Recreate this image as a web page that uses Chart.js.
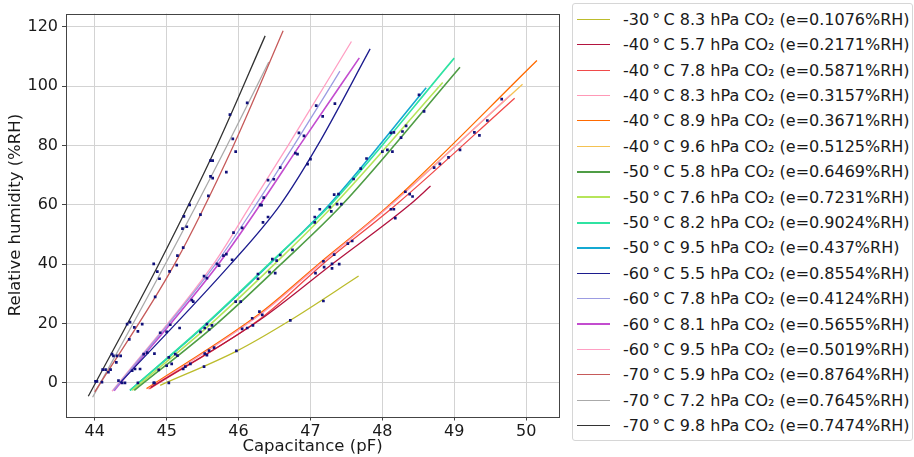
<!DOCTYPE html>
<html>
<head>
<meta charset="utf-8">
<script src="https://cdn.jsdelivr.net/npm/chart.js@4.4.1/dist/chart.umd.min.js"></script>
<style>
body { margin: 0; background: #fff; width: 914px; height: 457px; overflow: hidden; position: relative; font-family: "DejaVu Sans", sans-serif; }
#wrap { position: absolute; left: 0; top: 0; width: 570px; height: 457px; }
#legend { position: absolute; left: 572px; top: 3px; width: 341px; height: 438px; border: 1px solid #d6d6d6; border-radius: 3px; box-sizing: border-box; }
.row { position: absolute; left: 0; height: 24px; display: flex; align-items: center; font-size: 16px; color: #1a1a1a; white-space: nowrap; }
.swatch { width: 33px; margin-left: 4px; margin-right: 13px; }
</style>
</head>
<body>
<div id="wrap"><canvas id="chartFit" width="570" height="457"></canvas></div>
<div id="legend"></div>
<script>
// series labels
const temps = ['-30', '-40', '-40', '-40', '-40', '-40', '-50', '-50', '-50', '-50', '-60', '-60', '-60', '-60', '-70', '-70', '-70'];
const pressures = ['8.3', '5.7', '7.8', '8.3', '8.9', '9.6', '5.8', '7.6', '8.2', '9.5', '5.5', '7.8', '8.1', '9.5', '5.9', '7.2', '9.8'];
const errors = ['0.1076', '0.2171', '0.5871', '0.3157', '0.3671', '0.5125', '0.6469', '0.7231', '0.9024', '0.437', '0.8554', '0.4124', '0.5655', '0.5019', '0.8764', '0.7645', '0.7474'];

// fitted curves (capacitance pF, humidity %RH)
const fitX = [
    [44.91, 45.98, 46.72, 47.67],
    [44.78, 46.30, 47.30, 48.38, 48.67],
    [44.76, 46.35, 47.17, 48.19, 49.84],
    [44.74, 46.31, 47.13, 48.12, 49.78],
    [44.72, 46.30, 47.11, 48.10, 50.15],
    [44.74, 46.30, 47.12, 48.11, 49.95],
    [44.55, 45.70, 46.59, 47.44, 49.08],
    [44.52, 45.62, 46.50, 47.33, 48.84],
    [44.49, 45.55, 46.42, 47.28, 49.00],
    [44.49, 45.56, 46.43, 47.26, 48.61],
    [44.35, 45.89, 46.58, 47.10, 47.83],
    [44.26, 45.68, 46.24, 46.77, 47.41],
    [44.27, 45.72, 46.30, 46.85, 47.68],
    [44.24, 45.65, 46.17, 46.69, 47.57],
    [44.00, 45.11, 45.93, 46.62],
    [43.97, 44.98, 45.84, 46.42],
    [43.91, 44.89, 45.70, 46.37]
];
const fitY = [
    [-0.8, 10.8, 21.1, 36.0],
    [-1.5, 21.3, 40, 60, 66.3],
    [-2.0, 22.5, 40, 60, 95.9],
    [-2.0, 23.2, 40, 60, 97.0],
    [-1.9, 23.5, 40, 60, 108.6],
    [-1.9, 23.3, 40, 60, 100.6],
    [-2.5, 20, 40, 60, 106.3],
    [-2.5, 20, 40, 60, 101.2],
    [-2.5, 20, 40, 60, 109.4],
    [-2.5, 20, 40, 60, 99.4],
    [0, 40, 60, 80, 112.5],
    [-2.5, 40, 60, 80, 105.0],
    [-2.6, 40, 60, 80, 109.5],
    [-2.8, 40, 60, 80, 115.0],
    [-3.0, 40, 80, 118.6],
    [-4.8, 40, 80, 108.1],
    [-4.5, 40, 80, 116.9]
];

// measured points
const pointX = [
    44.01, 44.03, 44.10, 44.11, 44.15, 44.22, 44.19, 44.24, 44.26, 44.31, 44.36, 44.30, 44.45, 44.49, 44.55, 44.66, 44.60, 44.48,
    44.82, 44.87, 44.90, 44.84, 45.04, 45.14, 45.15, 45.23, 45.22, 45.28, 45.24, 45.32, 45.47, 45.58, 45.61, 45.64, 45.83, 45.61,
    45.64, 45.96, 45.92, 45.88, 46.12,
    44.33, 44.38, 44.42, 44.52, 44.56, 44.63, 44.68, 44.73, 44.83, 44.91, 45.00, 45.05, 45.18, 45.35, 45.37, 45.52, 45.56, 45.70,
    45.73, 45.79, 45.83, 45.91, 45.93, 46.05, 46.30, 46.32, 46.34, 46.41, 46.35, 46.41, 46.49, 46.58, 46.79, 46.82, 46.84, 46.91,
    46.96, 47.00, 47.08, 47.17, 47.34,
    44.60, 44.83, 44.89, 45.00, 45.07, 45.12, 45.15, 45.03, 45.47, 45.53, 45.56, 45.59, 45.63, 45.96, 46.03, 46.27, 46.27, 46.43,
    46.51, 46.47, 46.53, 46.58, 46.75, 47.06, 47.06, 47.13, 47.27, 47.29, 47.37, 47.43, 47.33, 47.39, 47.60, 47.70, 47.78, 48.00,
    48.07, 48.14, 48.12, 48.16, 48.26, 48.28, 48.33, 48.51, 48.58,
    44.82, 45.23, 45.26, 45.33, 45.52, 45.53, 45.56, 45.59, 45.66, 46.05, 46.12, 46.19, 46.20, 46.29, 46.33, 47.07, 47.19, 47.18,
    47.30, 47.33, 47.40, 47.30, 47.52, 47.58, 48.12, 48.16, 48.18, 48.32, 48.38, 48.42, 48.72, 48.80, 48.92, 49.08, 49.28, 49.35,
    49.46, 49.66,
    45.03, 45.97, 46.72, 47.18
];
const pointY = [
    0.5, 0.5, 0.3, 4.5, 4.5, 4.5, 3.6, 9.7, 9.1, 9.1, 9.1, 6.9, 19.8, 20.5, 18.7, 19.8, 17.4, 14.7,
    40.1, 37.5, 35.1, 29.0, 37.6, 39.7, 42.9, 45.6, 52.0, 52.6, 56.1, 60.0, 56.7, 63.0, 69.6, 69.0, 71.0, 74.9,
    74.9, 77.9, 82.2, 90.4, 94.3,
    0.8, 0, 0, 4.1, 4.7, 4.7, 9.7, 10.2, 9.9, 16.9, 17.2, 19.6, 18.5, 27.9, 27.4, 36.0, 35.3, 40.1,
    39.5, 42.9, 43.4, 41.5, 50.6, 52.2, 60.0, 59.9, 54.1, 55.9, 62.4, 68.3, 68.6, 72.5, 77.4, 77.1, 84.2, 83.2,
    73.7, 75.4, 93.4, 89.8, 94.1,
    0, 0, 4.4, 5.8, 6.4, 9.7, 9.2, 8.6, 17.2, 18.5, 19.8, 18.0, 19.4, 27.4, 27.4, 36.7, 35.1, 37.3,
    37.0, 41.7, 41.2, 43.1, 44.8, 55.9, 54.1, 58.5, 59.2, 57.8, 60.2, 60.2, 63.4, 63.6, 68.7, 72.2, 75.6, 77.9,
    78.5, 77.9, 84.2, 84.4, 82.6, 84.7, 86.6, 97.0, 91.5,
    0, 4.7, 5.5, 6.4, 5.5, 9.9, 9.4, 10.9, 11.9, 18.2, 18.5, 21.8, 19.4, 24.0, 22.9, 37.0, 39.0, 41.0,
    40.1, 43.2, 40.0, 38.6, 46.9, 47.8, 58.5, 58.5, 55.5, 64.4, 63.6, 62.8, 72.5, 73.8, 76.0, 78.5, 84.4, 83.4,
    88.4, 95.6,
    0, 10.8, 21.1, 27.6
];

const xTicks = [44, 45, 46, 47, 48, 49, 50];
const yTicks = [0, 20, 40, 60, 80, 100, 120];

const colors = ['#bcbc2c', '#b3143f', '#f04a4a', '#ff98b6', '#ff6a00', '#f4c252', '#4f9d45', '#b6e55a', '#2fe3a2',
    '#14a9d2', '#1c1c8e', '#9c9ce2', '#c34ccf', '#ff9fc3', '#c65a5a', '#aaaaaa', '#333333'];
const widths = [1.3, 1.3, 1.3, 1.3, 1.3, 1.3, 1.6, 1.6, 1.6, 1.6, 1.3, 1.3, 1.6, 1.3, 1.3, 1.3, 1.3];

function makeLabel(i) {
    return temps[i] + '\u2009°\u2009C ' + pressures[i] + ' hPa CO\u2082 (e=' + errors[i] + '%RH)';
}

const datasets = fitX.map((xs, i) => ({
    label: makeLabel(i),
    data: xs.map((x, j) => ({ x: x, y: fitY[i][j] })),
    showLine: true,
    borderColor: colors[i],
    backgroundColor: colors[i],
    borderWidth: widths[i],
    pointRadius: 0,
    cubicInterpolationMode: 'monotone',
    order: 1
}));

datasets.push({
    label: 'points',
    data: pointX.map((x, j) => ({ x: x, y: pointY[j] })),
    showLine: false,
    pointRadius: 1.9,
    pointStyle: 'rect',
    backgroundColor: '#10107a',
    borderColor: '#10107a',
    borderWidth: 0,
    order: 0
});

const framePlugin = {
    id: 'frame',
    afterDraw(chart) {
        const a = chart.chartArea;
        const ctx = chart.ctx;
        ctx.save();
        ctx.strokeStyle = '#444';
        ctx.lineWidth = 1;
        ctx.strokeRect(Math.round(a.left) + 0.5, Math.round(a.top) + 0.5, Math.round(a.right - a.left), Math.round(a.bottom - a.top));
        ctx.restore();
    }
};

Chart.defaults.font.family = '"DejaVu Sans", sans-serif';
Chart.defaults.color = '#1a1a1a';

const ctx = document.getElementById('chartFit').getContext('2d');
const fitChart = new Chart(ctx, {
    type: 'scatter',
    data: { datasets: datasets },
    options: {
        responsive: false,
        animation: false,
        layout: { padding: { left: 6, top: 7, right: 11, bottom: 0 } },
        plugins: { legend: { display: false }, tooltip: { enabled: false } },
        scales: {
            x: {
                type: 'linear',
                min: 43.6,
                max: 50.457,
                afterBuildTicks: s => { s.ticks = xTicks.map(v => ({ value: v })); },
                afterFit: s => { s.height = 40.5; },
                ticks: { font: { size: 16 }, padding: 2, maxRotation: 0 },
                grid: { color: '#d3d3d3', tickColor: '#444', tickLength: 4 },
                border: { display: false },
                title: { display: true, text: 'Capacitance (pF)', font: { size: 16.5 }, padding: { top: 0, bottom: 0 } }
            },
            y: {
                type: 'linear',
                min: -11.3,
                max: 124.4,
                afterBuildTicks: s => { s.ticks = yTicks.map(v => ({ value: v })); },
                afterFit: s => { s.width = 60; },
                ticks: { font: { size: 16 }, padding: 4 },
                grid: { color: '#d3d3d3', tickColor: '#444', tickLength: 4 },
                border: { display: false },
                title: { display: true, text: 'Relative humidity (%RH)', font: { size: 16.5 }, padding: { top: 0, bottom: 4 } }
            }
        }
    },
    plugins: [framePlugin]
});

// legend box on the right, built from the same series
const legend = document.getElementById('legend');
fitX.forEach((xs, i) => {
    const row = document.createElement('div');
    row.className = 'row';
    row.style.top = (3.3 + 25.4 * i) + 'px';
    const sw = document.createElement('div');
    sw.className = 'swatch';
    sw.style.borderTop = Math.max(1.5, widths[i] + 0.4) + 'px solid ' + colors[i];
    const txt = document.createElement('span');
    txt.textContent = makeLabel(i);
    row.appendChild(sw);
    row.appendChild(txt);
    legend.appendChild(row);
});
</script>
</body>
</html>
